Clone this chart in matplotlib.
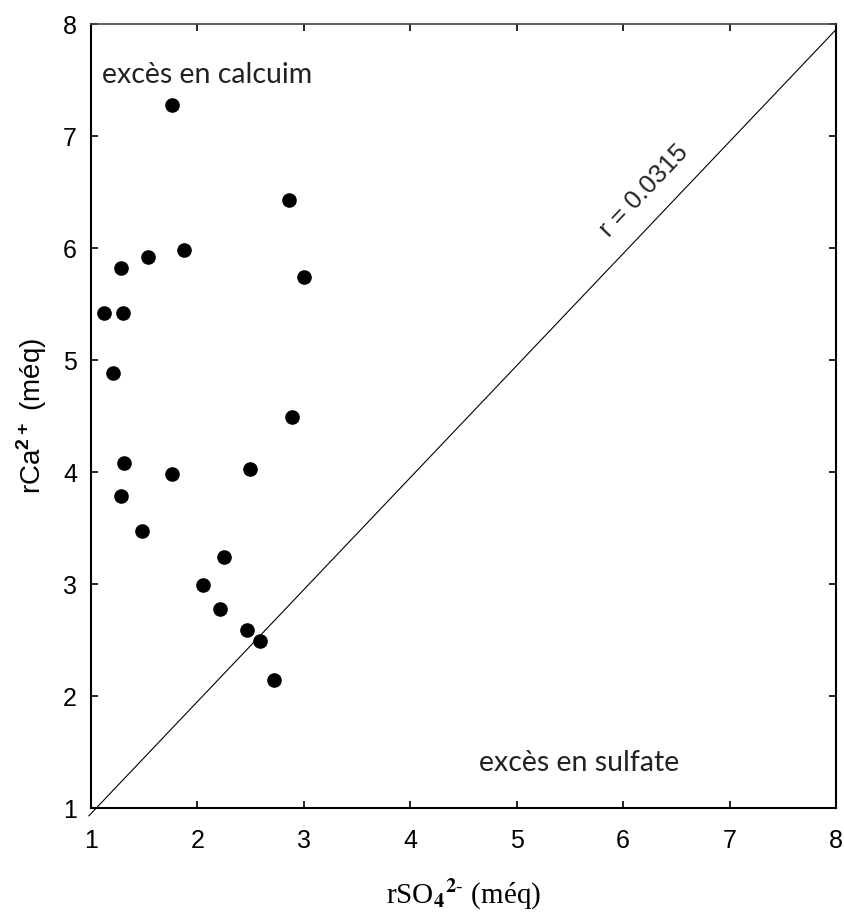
import matplotlib
matplotlib.use("Agg")
import matplotlib.pyplot as plt

# Data
so4 = [1.76, 2.86, 1.87, 1.54, 1.28, 3.00, 1.12, 1.30, 1.21, 2.89,
       1.31, 2.49, 1.76, 1.28, 1.48, 2.25, 2.05, 2.21, 2.47, 2.59, 2.72]
ca = [7.28, 6.43, 5.98, 5.92, 5.82, 5.74, 5.42, 5.42, 4.88, 4.49,
      4.08, 4.03, 3.98, 3.79, 3.47, 3.24, 2.99, 2.78, 2.59, 2.49, 2.14]
ticks = [1, 2, 3, 4, 5, 6, 7, 8]
line_x = [0.98, 8.0]
line_y = [0.93, 7.95]

plt.rcParams['mathtext.fontset'] = 'custom'
plt.rcParams['mathtext.rm'] = 'Liberation Sans'
plt.rcParams['mathtext.bf'] = 'Liberation Sans:bold'

fig = plt.figure(figsize=(8.44, 9.13), dpi=100)
ax = fig.add_axes([91/844, 1-808/913, 745/844, 784/913])

ax.plot(line_x, line_y, color='black', lw=0.8, clip_on=False)
ax.plot(so4, ca, 'o', color='black', ms=9.5, mec='black')

ax.set_xlim(1, 8)
ax.set_ylim(1, 8)
ax.set_xticks(ticks)
ax.set_yticks(ticks)
ax.tick_params(direction='in', length=5, width=1.2, top=True, right=True,
               labelsize=18)
ax.tick_params(axis='x', pad=15)
ax.tick_params(axis='y', pad=10)
for lab in ax.get_xticklabels() + ax.get_yticklabels():
    lab.set_family('Liberation Sans')
for name, s in ax.spines.items():
    s.set_linewidth(1.5)
ax.spines['top'].set_linewidth(1.2)
ax.spines['top'].set_color('#444444')

ax.set_ylabel(r'$\mathrm{rCa}^{\mathbf{2+}}$ $\mathrm{(méq)}$', fontsize=20,
              family='Liberation Sans', math_fontfamily='custom', labelpad=10)
ax.set_xlabel(r'rSO$_{\mathbf{4}}$$^{\mathbf{2}\text{-}}$ (méq)', fontsize=21,
              family='Liberation Serif', math_fontfamily='stix', labelpad=18)

ax.text(1.10, 7.545, 'excès en calcuim', fontsize=20.5, family='Lato', color='#222222',
        va='center', ha='left')
ax.text(4.65, 1.40, 'excès en sulfate', fontsize=20.5, family='Lato', color='#222222',
        va='center', ha='left')
ax.text(6.20, 6.51, 'r = 0.0315', fontsize=18.5, family='Liberation Sans', color='#222222',
        rotation=46.5, va='center', ha='center', rotation_mode='anchor')

fig.savefig('out.png', dpi=100)
